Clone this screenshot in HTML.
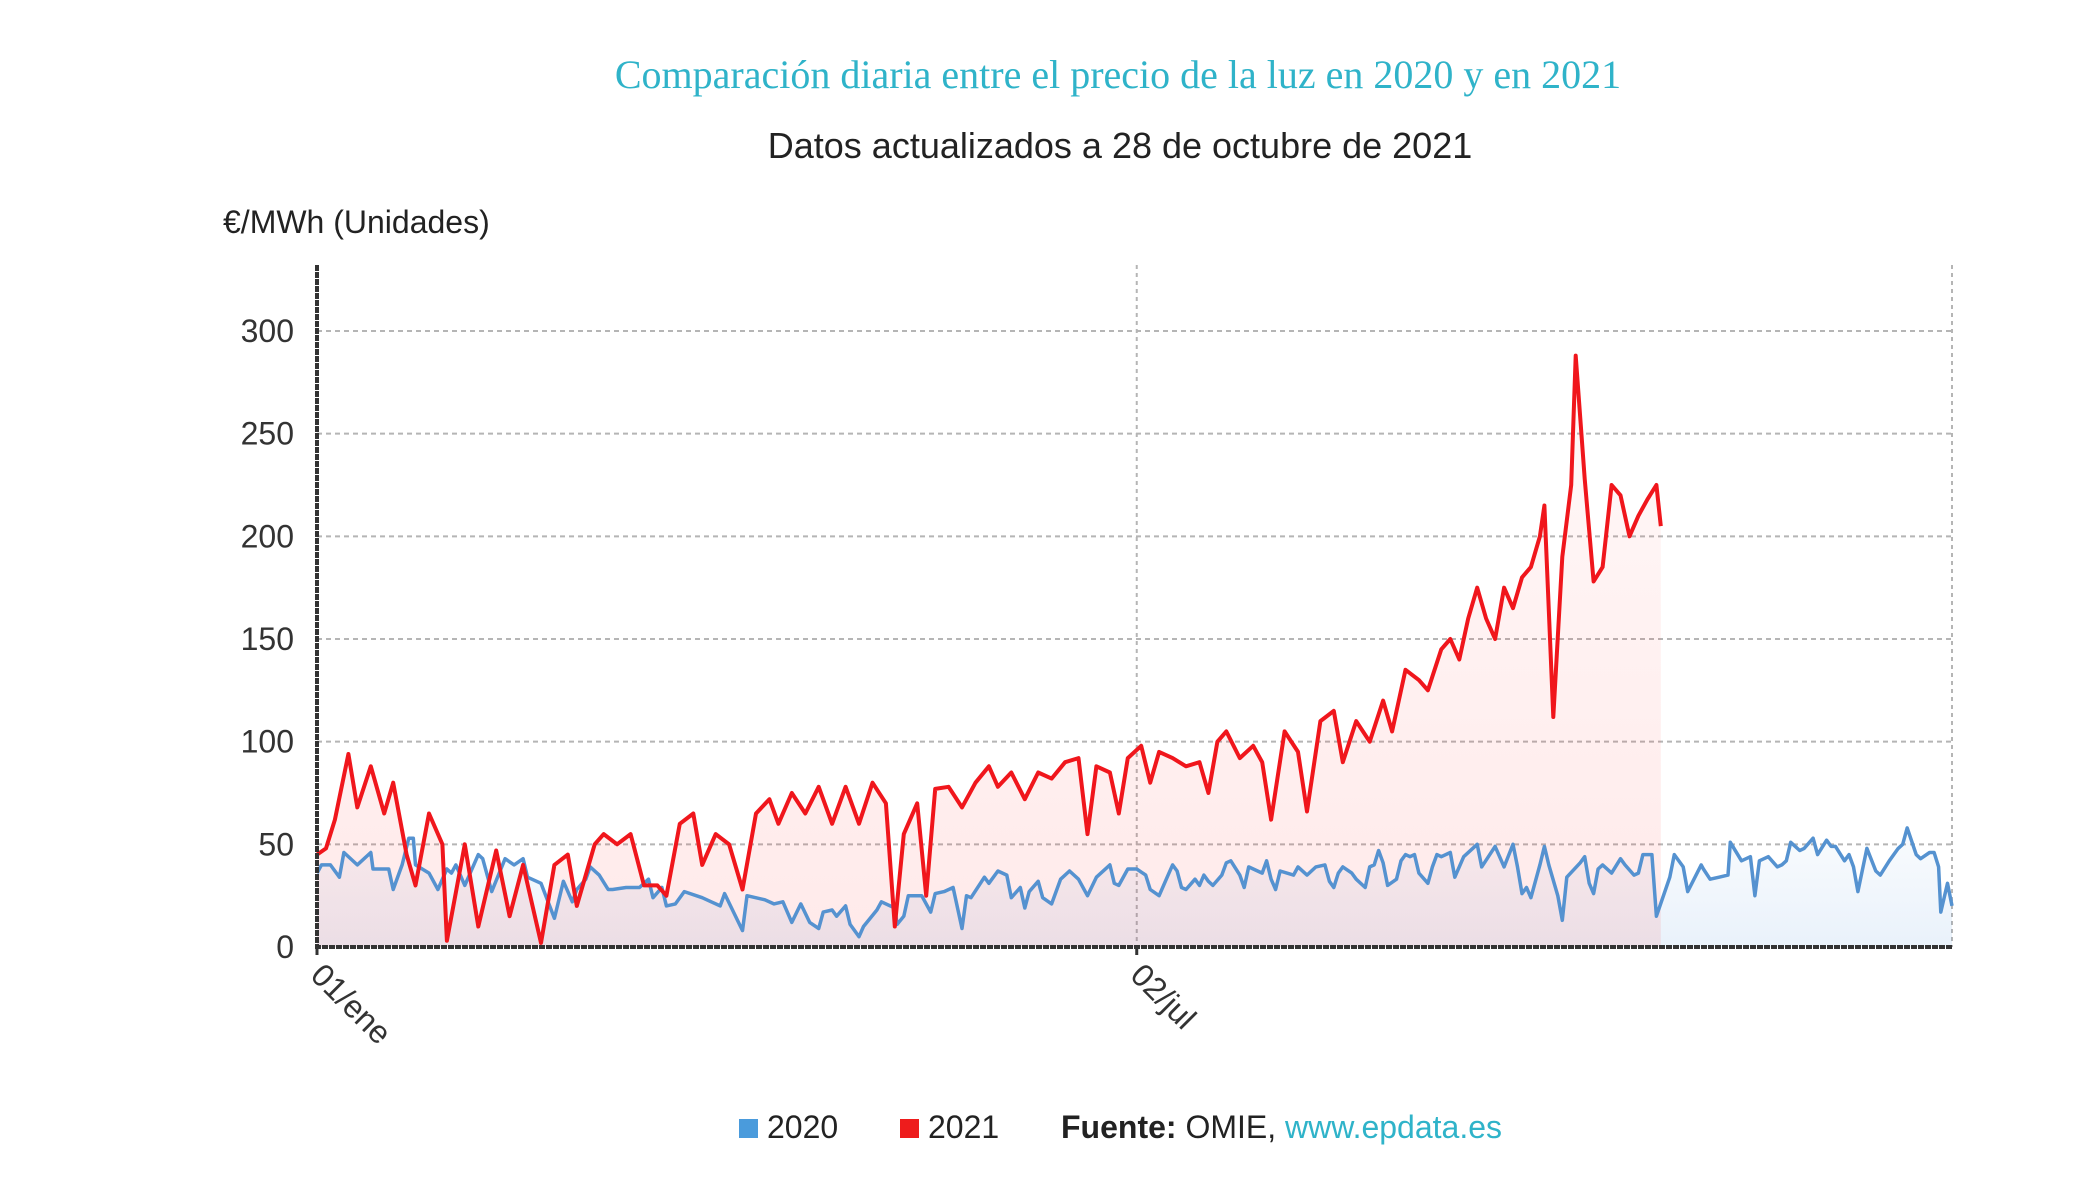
<!DOCTYPE html>
<html><head><meta charset="utf-8">
<style>
html,body{margin:0;padding:0;background:#fff;}
body{width:2078px;height:1204px;overflow:hidden;position:relative;font-family:"Liberation Sans",sans-serif;}
svg{position:absolute;left:0;top:0;}
</style></head>
<body>
<svg id="chart" width="2078" height="1204" viewBox="0 0 2078 1204">
  <defs>
    <linearGradient id="gRed" x1="0" y1="0" x2="0" y2="1">
      <stop offset="0" stop-color="#ff2a2a" stop-opacity="0.03"/>
      <stop offset="1" stop-color="#ff2a2a" stop-opacity="0.10"/>
    </linearGradient>
    <linearGradient id="gBlue" x1="0" y1="0" x2="0" y2="1">
      <stop offset="0" stop-color="#4a90d9" stop-opacity="0.03"/>
      <stop offset="1" stop-color="#4a90d9" stop-opacity="0.12"/>
    </linearGradient>
  </defs>
  <text x="1118" y="88" text-anchor="middle" font-family="'Liberation Serif',serif" font-size="40" fill="#2fb3c9">Comparación diaria entre el precio de la luz en 2020 y en 2021</text>
  <text x="1120" y="158" text-anchor="middle" font-size="36" fill="#222">Datos actualizados a 28 de octubre de 2021</text>
  <text x="223" y="233" font-size="32" fill="#222">€/MWh (Unidades)</text>
  <g id="grid"></g>
  <g id="series"></g>
  <g id="axes"></g>
  <g font-size="32" fill="#222">
    <rect x="739" y="1119" width="19" height="19" fill="#4a9bdc"/>
    <text x="767" y="1138">2020</text>
    <rect x="900" y="1119" width="19" height="19" fill="#ee1c1c"/>
    <text x="928" y="1138">2021</text>
    <text x="1061" y="1138"><tspan font-weight="bold">Fuente:</tspan> OMIE, <tspan fill="#2fb3c9">www.epdata.es</tspan></text>
  </g>
</svg>
<script>
// ---- data ----
const yTicks = [0, 50, 100, 150, 200, 250, 300];
const xTickDays = [0, 183];
const xTickLabels = ["01/ene", "02/jul"];
const days2020 = [0,1,3,5,6,9,12,12.5,16,17,19,20.5,21.5,22,25,27,29,30,31,33,36,37,39,42,44,46,47,50,53,55,57,58,60,61,63,65,66,69,72,74,75,77,78,80,82,86,88,90,91,95,96,100,102,104,106,108,110,112,113,115,116,118,119,121,122,125,126,129,129.5,131,132,135,137,138,140,142,144,145,146,149,150,152,154,155,157,158,159,161,162,164,166,168,170,172,174,177,178,179,181,183,185,186,188,190,191,192,193,194,196,197,198,199,200,202,203,204,206,207,208,211,212,213,214,215,218,219,221,223,225,226,227,228,229,231,232,234,235,236,237,238,239,241,242,243,244,245,246,248,249,250,251,253,254,256,259,260,263,265,267,268,269,270,271,273,274,275,277,278,279,282,283,284,285,286,287,289,291,292,294,295,296,298,299,302,303,305,306,309,309.5,311,313,315,315.5,318,320,321,322,324,326,327,328,329,331,332,334,335,337,338,339,341,342,343,344,346,348,349,351,353,354,355,357,358,360,361,362,362.5,364,365];
const values2020 = [36,40,40,34,46,40,46,38,38,28,40,53,53,40,36,28,38,36,40,30,45,43,27,43,40,43,34,31,14,32,22,28,33,39,35,28,28,29,29,33,24,29,20,21,27,24,22,20,26,8,25,23,21,22,12,21,12,9,17,18,15,20,11,5,10,18,22,19,11,15,25,25,17,26,27,29,9,25,24,34,31,37,35,24,29,19,27,32,24,21,33,37,33,25,34,40,31,30,38,38,35,28,25,35,40,37,29,28,33,30,35,32,30,35,41,42,35,29,39,36,42,33,28,37,35,39,35,39,40,32,29,36,39,36,33,29,39,40,47,41,30,33,42,45,44,45,36,31,39,45,44,46,34,44,50,39,49,39,50,39,26,29,24,40,49,40,25,13,34,41,44,31,26,38,40,36,43,40,35,36,45,45,15,34,45,39,27,40,38,33,34,35,51,42,44,25,42,44,39,40,42,51,47,48,53,45,52,49,49,42,45,39,27,48,37,35,42,48,50,58,45,43,46,46,39,17,31,20,42,49];
const days2021 = [0,2,4,7,9,12,15,17,20,22,25,28,29,33,36,40,43,46,50,53,56,58,62,64,67,70,73,76,78,81,84,86,89,92,95,98,101,103,106,109,112,115,118,121,124,127,129,131,134,136,138,141,144,147,150,152,155,158,161,164,167,170,172,174,177,179,181,184,186,188,191,194,197,199,201,203,206,209,211,213,216,219,221,224,227,229,232,235,238,240,243,246,248,251,253,255,257,259,261,263,265,267,269,271,273,274,276,278,280,281,283,285,287,289,291,293,295,297,299,300];
const values2021 = [45,48,62,94,68,88,65,80,45,30,65,50,3,50,10,47,15,40,2,40,45,20,50,55,50,55,30,30,25,60,65,40,55,50,28,65,72,60,75,65,78,60,78,60,80,70,10,55,70,25,77,78,68,80,88,78,85,72,85,82,90,92,55,88,85,65,92,98,80,95,92,88,90,75,100,105,92,98,90,62,105,95,66,110,115,90,110,100,120,105,135,130,125,145,150,140,160,175,160,150,175,165,180,185,200,215,112,190,225,288,228,178,185,225,220,200,210,218,225,205];

// ---- axis functions ----
const X0 = 317, X1 = 1952, Y0 = 947, PX_PER_UNIT = 616 / 300, DAYS = 365, TOP = 265;
function xs(d) { return X0 + d * (X1 - X0) / DAYS; }
function ys(v) { return Y0 - v * PX_PER_UNIT; }
const NS = "http://www.w3.org/2000/svg";
function mk(tag, attrs, parent) {
  const e = document.createElementNS(NS, tag);
  for (const k in attrs) e.setAttribute(k, attrs[k]);
  parent.appendChild(e);
  return e;
}
const grid = document.getElementById("grid");
const series = document.getElementById("series");
const axes = document.getElementById("axes");

yTicks.forEach(function (t) {
  if (t > 0) {
    const gl = mk("line", {x1: X0, x2: X1, y1: ys(t), y2: ys(t), stroke: "#b5b5b5", "stroke-width": 2, "stroke-dasharray": "5,4"}, grid);
    
    
  }
  const lb = mk("text", {x: 294, y: ys(t) + 11, "text-anchor": "end", "font-size": 32, fill: "#333"}, axes);
  
  
  lb.textContent = t;
});
[183, DAYS].forEach(function (d) {
  const vl = mk("line", {x1: xs(d), x2: xs(d), y1: TOP, y2: Y0, stroke: "#b5b5b5", "stroke-width": 2, "stroke-dasharray": "4,4"}, grid);
  
  
});

function areaPath(days, vals) {
  let p = "M" + xs(days[0]) + "," + Y0;
  for (let i = 0; i < days.length; i++) p += " L" + xs(days[i]).toFixed(1) + "," + ys(vals[i]).toFixed(1);
  p += " L" + xs(days[days.length - 1]) + "," + Y0 + " Z";
  return p;
}
function linePath(days, vals) {
  let p = "";
  for (let i = 0; i < days.length; i++) p += (i ? " L" : "M") + xs(days[i]).toFixed(1) + "," + ys(vals[i]).toFixed(1);
  return p;
}
const a20 = mk("path", {d: areaPath(days2020, values2020), fill: "url(#gBlue)"}, series);


const a21 = mk("path", {d: areaPath(days2021, values2021), fill: "url(#gRed)"}, series);


const l20 = mk("path", {d: linePath(days2020, values2020), fill: "none", stroke: "#5592d0", "stroke-width": 3.5, "stroke-linejoin": "round"}, series);


const l21 = mk("path", {d: linePath(days2021, values2021), fill: "none", stroke: "#f0161c", "stroke-width": 4, "stroke-linejoin": "round"}, series);



const yAx = mk("line", {x1: X0, x2: X0, y1: TOP, y2: Y0 + 2, stroke: "#333", "stroke-width": 4, "stroke-dasharray": "6,1"}, axes);


const xAx = mk("line", {x1: X0 - 2, x2: X1, y1: Y0, y2: Y0, stroke: "#333", "stroke-width": 4, "stroke-dasharray": "6,1"}, axes);



xTickDays.forEach(function (d, i) {
  const tk = mk("line", {x1: xs(d), x2: xs(d), y1: Y0, y2: Y0 + 8, stroke: "#333", "stroke-width": 3}, axes);
  
  
  const tx = mk("text", {x: xs(d) - 8, y: Y0 + 30, "font-size": 32, fill: "#333", transform: "rotate(45 " + (xs(d) - 8) + " " + (Y0 + 30) + ")"}, axes);
  
  
  tx.textContent = xTickLabels[i];
});
</script>
</body></html>
